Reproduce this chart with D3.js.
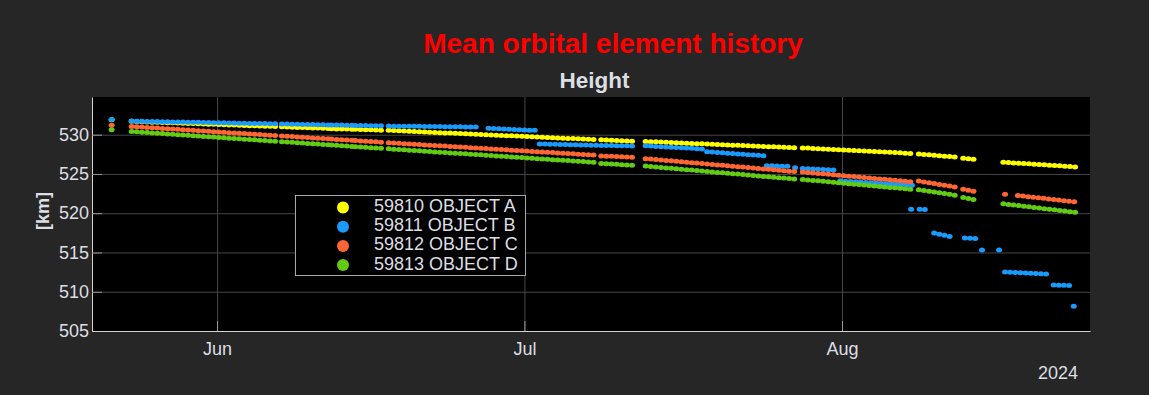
<!DOCTYPE html>
<html>
<head>
<meta charset="utf-8">
<script src="https://cdn.jsdelivr.net/npm/d3@7/dist/d3.min.js"></script>
<style>
  html, body { margin: 0; padding: 0; background: #262626; }
  svg { display: block; font-family: "Liberation Sans", Arial, sans-serif; }
</style>
</head>
<body>
<svg id="chart" width="1149" height="395"></svg>
<script>
// sampling step of the stored values (hours)
const STEP_HOURS = 12;

const seriesNames = ["59810 OBJECT A", "59811 OBJECT B", "59812 OBJECT C", "59813 OBJECT D"];
const seriesColors = ["#ffff00", "#1a9bfc", "#ff6633", "#62cc14"];

const yTicks = [505, 510, 515, 520, 525, 530];
const monthTicks = ["2024-06-01", "2024-07-01", "2024-08-01"];
const yearLabel = "2024";

// [segment start, heights in km every STEP_HOURS]
const objectA = [
  ["2024-05-21T17:00Z", [531.90]],
  ["2024-05-23T16:00Z", [531.70, 531.68, 531.65, 531.63, 531.60, 531.58, 531.56, 531.53, 531.51, 531.49,
    531.46, 531.44, 531.41, 531.39, 531.37, 531.34, 531.32, 531.30, 531.27, 531.25,
    531.22, 531.20, 531.18, 531.15, 531.13, 531.11, 531.08, 531.06, 531.03]],
  ["2024-06-07T08:00Z", [531.00, 530.98, 530.95, 530.93, 530.91, 530.88, 530.86, 530.84, 530.81, 530.79]],
  ["2024-06-12T04:00Z", [530.76, 530.74, 530.72, 530.71, 530.69]],
  ["2024-06-14T12:00Z", [530.68, 530.66]],
  ["2024-06-15T12:00Z", [530.64, 530.62]],
  ["2024-06-16T12:00Z", [530.60, 530.58]],
  ["2024-06-17T18:00Z", [530.55, 530.52, 530.49, 530.46, 530.43, 530.40, 530.38, 530.35, 530.32, 530.29,
    530.26, 530.23, 530.20, 530.17, 530.14, 530.11, 530.08, 530.06, 530.03, 530.00,
    529.97, 529.94, 529.91, 529.88, 529.85, 529.82, 529.79, 529.76, 529.74, 529.71,
    529.68, 529.65, 529.62, 529.59, 529.56, 529.53, 529.50, 529.47, 529.44, 529.41, 529.38]],
  ["2024-07-08T12:00Z", [529.34, 529.31, 529.28, 529.26, 529.23, 529.20, 529.18]],
  ["2024-07-12T20:00Z", [529.14, 529.11, 529.09, 529.06, 529.03, 529.00, 528.97, 528.95, 528.92, 528.89,
    528.86, 528.84, 528.81, 528.78, 528.75, 528.73, 528.70, 528.67, 528.64, 528.62,
    528.59, 528.56, 528.53, 528.51, 528.48, 528.45, 528.42, 528.40, 528.37, 528.34]],
  ["2024-07-28T04:00Z", [528.32, 528.29, 528.25, 528.22, 528.19, 528.15, 528.12, 528.09, 528.05, 528.02,
    527.99, 527.95, 527.92, 527.89, 527.85, 527.82, 527.79, 527.75, 527.72, 527.69, 527.65, 527.62]],
  ["2024-08-08T12:00Z", [527.55, 527.49, 527.44, 527.38, 527.32, 527.26, 527.21, 527.15]],
  ["2024-08-12T20:00Z", [527.00, 526.94, 526.88]],
  ["2024-08-16T18:00Z", [526.50, 526.46, 526.41, 526.37, 526.33, 526.29, 526.24, 526.20, 526.16, 526.11,
    526.07, 526.03, 525.99, 525.94, 525.90]]
];

const objectB = [
  ["2024-05-21T17:00Z", [531.95]],
  ["2024-05-23T16:00Z", [531.73, 531.72, 531.71, 531.69, 531.68, 531.67, 531.66, 531.64, 531.63, 531.62,
    531.61, 531.59, 531.58, 531.57, 531.56, 531.54, 531.53, 531.52, 531.51, 531.49,
    531.48, 531.47, 531.46, 531.44, 531.43, 531.42, 531.41, 531.39, 531.38]],
  ["2024-06-07T08:00Z", [531.36, 531.35, 531.34, 531.33, 531.31, 531.30, 531.29, 531.28, 531.26, 531.25]],
  ["2024-06-12T04:00Z", [531.24, 531.23, 531.22, 531.20, 531.19]],
  ["2024-06-14T12:00Z", [531.18, 531.17]],
  ["2024-06-15T12:00Z", [531.16, 531.15]],
  ["2024-06-16T12:00Z", [531.14, 531.13]],
  ["2024-06-17T18:00Z", [531.10, 531.09, 531.09, 531.08, 531.07, 531.06, 531.06, 531.05, 531.04, 531.03,
    531.03, 531.02, 531.01, 531.00, 531.00, 530.99, 530.98, 530.97]],
  ["2024-06-27T12:00Z", [530.82, 530.79, 530.76, 530.73, 530.70, 530.67, 530.64, 530.61, 530.58, 530.55]],
  ["2024-07-02T12:00Z", [528.82, 528.80, 528.79, 528.77, 528.76, 528.74, 528.73, 528.71, 528.70, 528.68, 528.67, 528.65]],
  ["2024-07-08T12:00Z", [528.63, 528.62, 528.61, 528.60, 528.59, 528.58, 528.57]],
  ["2024-07-12T20:00Z", [528.58, 528.55, 528.51, 528.48, 528.44, 528.40, 528.37, 528.33, 528.29, 528.26, 528.22, 528.19]],
  ["2024-07-18T20:00Z", [527.82, 527.78, 527.73, 527.69, 527.64, 527.60, 527.55, 527.51, 527.46, 527.42, 527.37, 527.33]],
  ["2024-07-24T16:00Z", [526.05, 526.03, 526.01, 525.99, 525.97]],
  ["2024-07-27T10:00Z", [525.80]],
  ["2024-07-28T04:00Z", [525.68, 525.65, 525.62, 525.59, 525.56, 525.53, 525.50]],
  ["2024-07-31T20:00Z", [524.12, 524.08, 524.04, 524.00, 523.96, 523.92, 523.88, 523.84, 523.80, 523.75,
    523.71, 523.67, 523.63, 523.59, 523.55]],
  ["2024-08-07T18:00Z", [520.50]],
  ["2024-08-08T14:00Z", [520.50, 520.48]],
  ["2024-08-10T00:00Z", [517.48, 517.33, 517.18, 517.05]],
  ["2024-08-13T00:00Z", [516.85, 516.82, 516.78]],
  ["2024-08-14T16:00Z", [515.30]],
  ["2024-08-16T08:00Z", [515.30]],
  ["2024-08-16T22:00Z", [512.52, 512.49, 512.46, 512.43, 512.40, 512.37, 512.33, 512.30, 512.27]],
  ["2024-08-21T16:00Z", [510.85, 510.84, 510.82, 510.80]],
  ["2024-08-23T15:00Z", [508.15]]
];

const objectC = [
  ["2024-05-21T17:00Z", [531.20]],
  ["2024-05-23T16:00Z", [531.05, 531.01, 530.97, 530.93, 530.88, 530.84, 530.80, 530.76, 530.72, 530.68,
    530.64, 530.59, 530.55, 530.51, 530.47, 530.43, 530.39, 530.34, 530.30, 530.26,
    530.22, 530.18, 530.14, 530.10, 530.05, 530.01, 529.97, 529.93, 529.89]],
  ["2024-06-07T08:00Z", [529.84, 529.80, 529.76, 529.72, 529.68, 529.63, 529.59, 529.55, 529.51, 529.47]],
  ["2024-06-12T04:00Z", [529.44, 529.40, 529.36, 529.32, 529.28]],
  ["2024-06-14T12:00Z", [529.25, 529.21]],
  ["2024-06-15T12:00Z", [529.17, 529.13]],
  ["2024-06-16T12:00Z", [529.09, 529.05]],
  ["2024-06-17T18:00Z", [528.98, 528.94, 528.90, 528.86, 528.82, 528.78, 528.74, 528.70, 528.66, 528.62,
    528.58, 528.55, 528.51, 528.47, 528.43, 528.39, 528.35, 528.31, 528.27, 528.23,
    528.19, 528.15, 528.11, 528.07, 528.03, 527.99, 527.95, 527.91, 527.87, 527.83,
    527.80, 527.76, 527.72, 527.68, 527.64, 527.60, 527.56, 527.52, 527.48, 527.44, 527.40]],
  ["2024-07-08T12:00Z", [527.30, 527.27, 527.24, 527.21, 527.18, 527.15, 527.12]],
  ["2024-07-12T20:00Z", [526.95, 526.89, 526.84, 526.78, 526.72, 526.67, 526.61, 526.55, 526.49, 526.44,
    526.38, 526.32, 526.27, 526.21, 526.15, 526.10, 526.04, 525.98, 525.93, 525.87,
    525.81, 525.76, 525.70, 525.64, 525.59, 525.53, 525.47, 525.42, 525.36, 525.30]],
  ["2024-07-28T04:00Z", [525.25, 525.19, 525.13, 525.07, 525.02, 524.96, 524.90, 524.84, 524.78, 524.72,
    524.66, 524.61, 524.55, 524.49, 524.43, 524.37, 524.31, 524.25, 524.19, 524.14, 524.08, 524.02]],
  ["2024-08-08T12:00Z", [524.10, 523.99, 523.89, 523.78, 523.67, 523.56, 523.46, 523.35]],
  ["2024-08-12T20:00Z", [523.05, 522.93, 522.80]],
  ["2024-08-16T22:00Z", [522.40]],
  ["2024-08-18T04:00Z", [522.25, 522.18, 522.10, 522.03, 521.96, 521.89, 521.81, 521.74, 521.67, 521.59, 521.52, 521.45]]
];

const objectD = [
  ["2024-05-21T17:00Z", [530.62]],
  ["2024-05-23T16:00Z", [530.40, 530.36, 530.31, 530.27, 530.22, 530.18, 530.14, 530.09, 530.05, 530.00,
    529.96, 529.92, 529.87, 529.83, 529.78, 529.74, 529.70, 529.65, 529.61, 529.56,
    529.52, 529.48, 529.43, 529.39, 529.34, 529.30, 529.26, 529.21, 529.17]],
  ["2024-06-07T08:00Z", [529.11, 529.07, 529.03, 528.98, 528.94, 528.89, 528.85, 528.81, 528.76, 528.72]],
  ["2024-06-12T04:00Z", [528.69, 528.64, 528.60, 528.56, 528.51]],
  ["2024-06-14T12:00Z", [528.48, 528.44]],
  ["2024-06-15T12:00Z", [528.39, 528.35]],
  ["2024-06-16T12:00Z", [528.30, 528.26]],
  ["2024-06-17T18:00Z", [528.20, 528.16, 528.11, 528.07, 528.03, 527.99, 527.94, 527.90, 527.86, 527.81,
    527.77, 527.73, 527.68, 527.64, 527.60, 527.56, 527.51, 527.47, 527.43, 527.38,
    527.34, 527.30, 527.25, 527.21, 527.17, 527.13, 527.08, 527.04, 527.00, 526.95,
    526.91, 526.87, 526.82, 526.78, 526.74, 526.70, 526.65, 526.61, 526.57, 526.52, 526.48]],
  ["2024-07-08T12:00Z", [526.34, 526.30, 526.26, 526.22, 526.18, 526.14, 526.10]],
  ["2024-07-12T20:00Z", [526.00, 525.94, 525.89, 525.83, 525.77, 525.72, 525.66, 525.60, 525.54, 525.49,
    525.43, 525.37, 525.32, 525.26, 525.20, 525.15, 525.09, 525.03, 524.98, 524.92,
    524.86, 524.81, 524.75, 524.69, 524.64, 524.58, 524.52, 524.47, 524.41, 524.35]],
  ["2024-07-28T04:00Z", [524.30, 524.24, 524.18, 524.12, 524.06, 524.00, 523.94, 523.88, 523.82, 523.76,
    523.70, 523.65, 523.59, 523.53, 523.47, 523.41, 523.35, 523.29, 523.23, 523.17, 523.11, 523.05]],
  ["2024-08-08T12:00Z", [523.00, 522.90, 522.80, 522.70, 522.60, 522.50, 522.40, 522.30]],
  ["2024-08-12T20:00Z", [522.00, 521.88, 521.75]],
  ["2024-08-16T18:00Z", [521.20, 521.12, 521.05, 520.97, 520.89, 520.81, 520.74, 520.66, 520.58, 520.51,
    520.43, 520.35, 520.28, 520.20, 520.12]]
];

const allSeries = [objectA, objectB, objectC, objectD];

const margin = { left: 92, right: 1090, top: 97, bottom: 331 };
const textColor = "#dcdfe3";

const toPoints = (segments) => segments.flatMap(([start, values]) => {
  const t0 = new Date(start);
  return values.map((v, i) => ({ t: d3.utcHour.offset(t0, i * STEP_HOURS), v }));
});

const svg = d3.select("#chart");

const x = d3.scaleUtc()
  .domain([new Date("2024-05-19T19:00Z"), new Date("2024-08-25T05:00Z")])
  .range([margin.left, margin.right]);

const y = d3.scaleLinear()
  .domain([505, 534.8])
  .range([margin.bottom, margin.top]);

const plotW = margin.right - margin.left;
const plotH = margin.bottom - margin.top;
const monthDates = monthTicks.map(d => new Date(d + "T00:00Z"));

// plot background
svg.append("rect")
  .attr("x", margin.left).attr("y", margin.top)
  .attr("width", plotW).attr("height", plotH)
  .attr("fill", "#000");

// grid
const styleGrid = g => {
  g.select(".domain").remove();
  g.selectAll(".tick line").attr("stroke", "#474747");
  g.selectAll(".tick text").remove();
};

svg.append("g")
  .attr("transform", `translate(${margin.left},0)`)
  .call(d3.axisLeft(y).tickValues(yTicks.filter(v => v > 505)).tickSize(-plotW))
  .call(styleGrid);

svg.append("g")
  .attr("transform", `translate(0,${margin.bottom})`)
  .call(d3.axisBottom(x).tickValues(monthDates).tickSize(-plotH))
  .call(styleGrid);

// points
svg.append("clipPath").attr("id", "plot-clip")
  .append("rect")
  .attr("x", margin.left).attr("y", margin.top)
  .attr("width", plotW).attr("height", plotH);

const pointsLayer = svg.append("g").attr("clip-path", "url(#plot-clip)");

allSeries.forEach((segments, i) => {
  pointsLayer.append("g")
    .attr("class", `series-${i}`)
    .selectAll("ellipse")
    .data(toPoints(segments))
    .enter()
    .append("ellipse")
    .attr("cx", d => x(d.t))
    .attr("cy", d => y(d.v))
    .attr("rx", 3.0)
    .attr("ry", 2.5)
    .attr("fill", seriesColors[i]);
});

// axes
const styleAxis = g => {
  g.select(".domain").attr("stroke", "#d4d4d4");
  g.selectAll(".tick line").attr("stroke", "#9a9a9a");
  g.selectAll(".tick text")
    .attr("fill", textColor)
    .attr("font-size", 18);
};

svg.append("g")
  .attr("transform", `translate(${margin.left},0)`)
  .call(d3.axisLeft(y).tickValues(yTicks).tickSize(-10).tickPadding(3).tickSizeOuter(0))
  .call(styleAxis);

svg.append("g")
  .attr("transform", `translate(0,${margin.bottom})`)
  .call(d3.axisBottom(x).tickValues(monthDates).tickSize(-10).tickPadding(11).tickSizeOuter(0)
    .tickFormat(d3.utcFormat("%b")))
  .call(styleAxis);

svg.append("text")
  .attr("x", 1078).attr("y", 379)
  .attr("text-anchor", "end")
  .attr("fill", textColor)
  .attr("font-size", 18)
  .text(yearLabel);

// titles
svg.append("text")
  .attr("x", 613).attr("y", 53)
  .attr("text-anchor", "middle")
  .attr("fill", "#ff0000")
  .attr("font-size", 28)
  .attr("font-weight", "bold")
  .text("Mean orbital element history");

svg.append("text")
  .attr("x", 594.5).attr("y", 88)
  .attr("text-anchor", "middle")
  .attr("fill", textColor)
  .attr("font-size", 22.5)
  .attr("font-weight", "bold")
  .text("Height");

svg.append("text")
  .attr("transform", "translate(49,211) rotate(-90)")
  .attr("text-anchor", "middle")
  .attr("fill", textColor)
  .attr("font-size", 18)
  .attr("font-weight", "bold")
  .text("[km]");

// legend
const legend = svg.append("g").attr("transform", "translate(295.5,195.5)");

legend.append("rect")
  .attr("width", 230).attr("height", 80)
  .attr("fill", "#000")
  .attr("stroke", "#a8a8a8");

const rows = legend.selectAll(".row")
  .data(seriesNames)
  .enter()
  .append("g")
  .attr("class", "row")
  .attr("transform", (d, i) => `translate(0,${12 + i * 19.2})`);

rows.append("circle")
  .attr("cx", 47.5).attr("cy", 0)
  .attr("r", 6)
  .attr("fill", (d, i) => seriesColors[i]);

rows.append("text")
  .attr("x", 78.5).attr("y", 4.5)
  .attr("fill", textColor)
  .attr("font-size", 18)
  .text(d => d);
</script>
</body>
</html>
